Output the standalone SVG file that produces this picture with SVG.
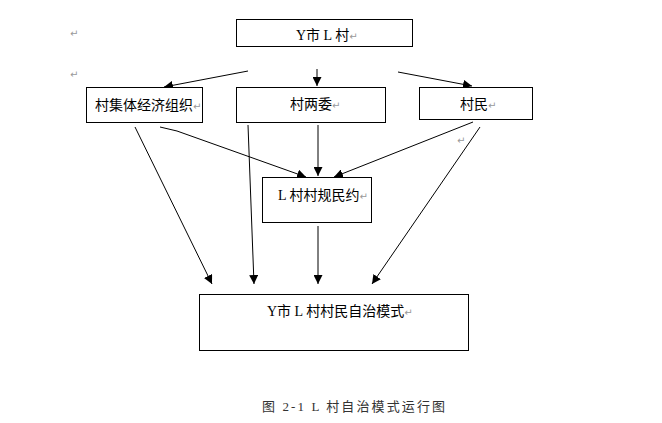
<svg xmlns="http://www.w3.org/2000/svg" width="662" height="423" viewBox="0 0 662 423">
<style>
.box{fill:#fff;stroke:#000;stroke-width:1}
.t{font-family:"Liberation Serif","Noto Sans CJK SC",serif;font-size:14px;fill:#000}
.rm{font-family:"DejaVu Sans",sans-serif;font-size:10px;fill:#999}
.ln{stroke:#000;stroke-width:1;fill:none;marker-end:url(#ah)}
.cap{font-family:"Liberation Serif","Noto Sans CJK SC",serif;font-size:13px;fill:#333}
</style>
<defs>
<marker id="ah" viewBox="0 0 10 10" refX="10" refY="5" markerWidth="9" markerHeight="9" markerUnits="userSpaceOnUse" orient="auto">
<path d="M0,0 L10,5 L0,10 z" fill="#000"/>
</marker>
</defs>
<rect width="662" height="423" fill="#fff"/>
<text class="rm" x="70" y="37">↵</text>
<text class="rm" x="70" y="78">↵</text>
<text class="rm" x="457" y="144">↵</text>
<g id="connectors">
<line class="ln" x1="248" y1="71" x2="164" y2="87"/>
<line class="ln" x1="317" y1="69" x2="317" y2="86"/>
<line class="ln" x1="398" y1="72" x2="472" y2="86"/>
<line class="ln" x1="135" y1="127" x2="212" y2="284"/>
<polyline class="ln" points="160,127 177,131 306,177"/>
<line class="ln" x1="248" y1="125" x2="254" y2="284"/>
<line class="ln" x1="318" y1="125" x2="318" y2="176"/>
<line class="ln" x1="473" y1="122" x2="334" y2="177"/>
<line class="ln" x1="480" y1="127" x2="372" y2="284"/>
<line class="ln" x1="318" y1="226" x2="318" y2="284"/>
</g>
<g id="n1">
<rect class="box" x="236.5" y="19.5" width="176" height="27"/>
<text class="t" x="296" y="40">Y市 L 村<tspan class="rm">↵</tspan></text>
</g>
<g id="n2">
<rect class="box" x="86.5" y="87.5" width="116" height="35"/>
<text class="t" x="95" y="110">村集体经济组织<tspan class="rm">↵</tspan></text>
</g>
<g id="n3">
<rect class="box" x="236.5" y="87.5" width="149" height="35"/>
<text class="t" x="290" y="109">村两委<tspan class="rm">↵</tspan></text>
</g>
<g id="n4">
<rect class="box" x="419.5" y="87.5" width="113" height="32"/>
<text class="t" x="460" y="109">村民<tspan class="rm">↵</tspan></text>
</g>
<g id="n5">
<rect class="box" x="262.5" y="177.5" width="109" height="45"/>
<text class="t" x="278" y="200">L 村村规民约<tspan class="rm">↵</tspan></text>
</g>
<g id="n6">
<rect class="box" x="199.5" y="294.5" width="269" height="56"/>
<text class="t" x="267" y="316">Y市 L 村村民自治模式<tspan class="rm">↵</tspan></text>
</g>
<text class="cap" x="262" y="411" textLength="183" lengthAdjust="spacing">图 2-1  L 村自治模式运行图</text>
</svg>
